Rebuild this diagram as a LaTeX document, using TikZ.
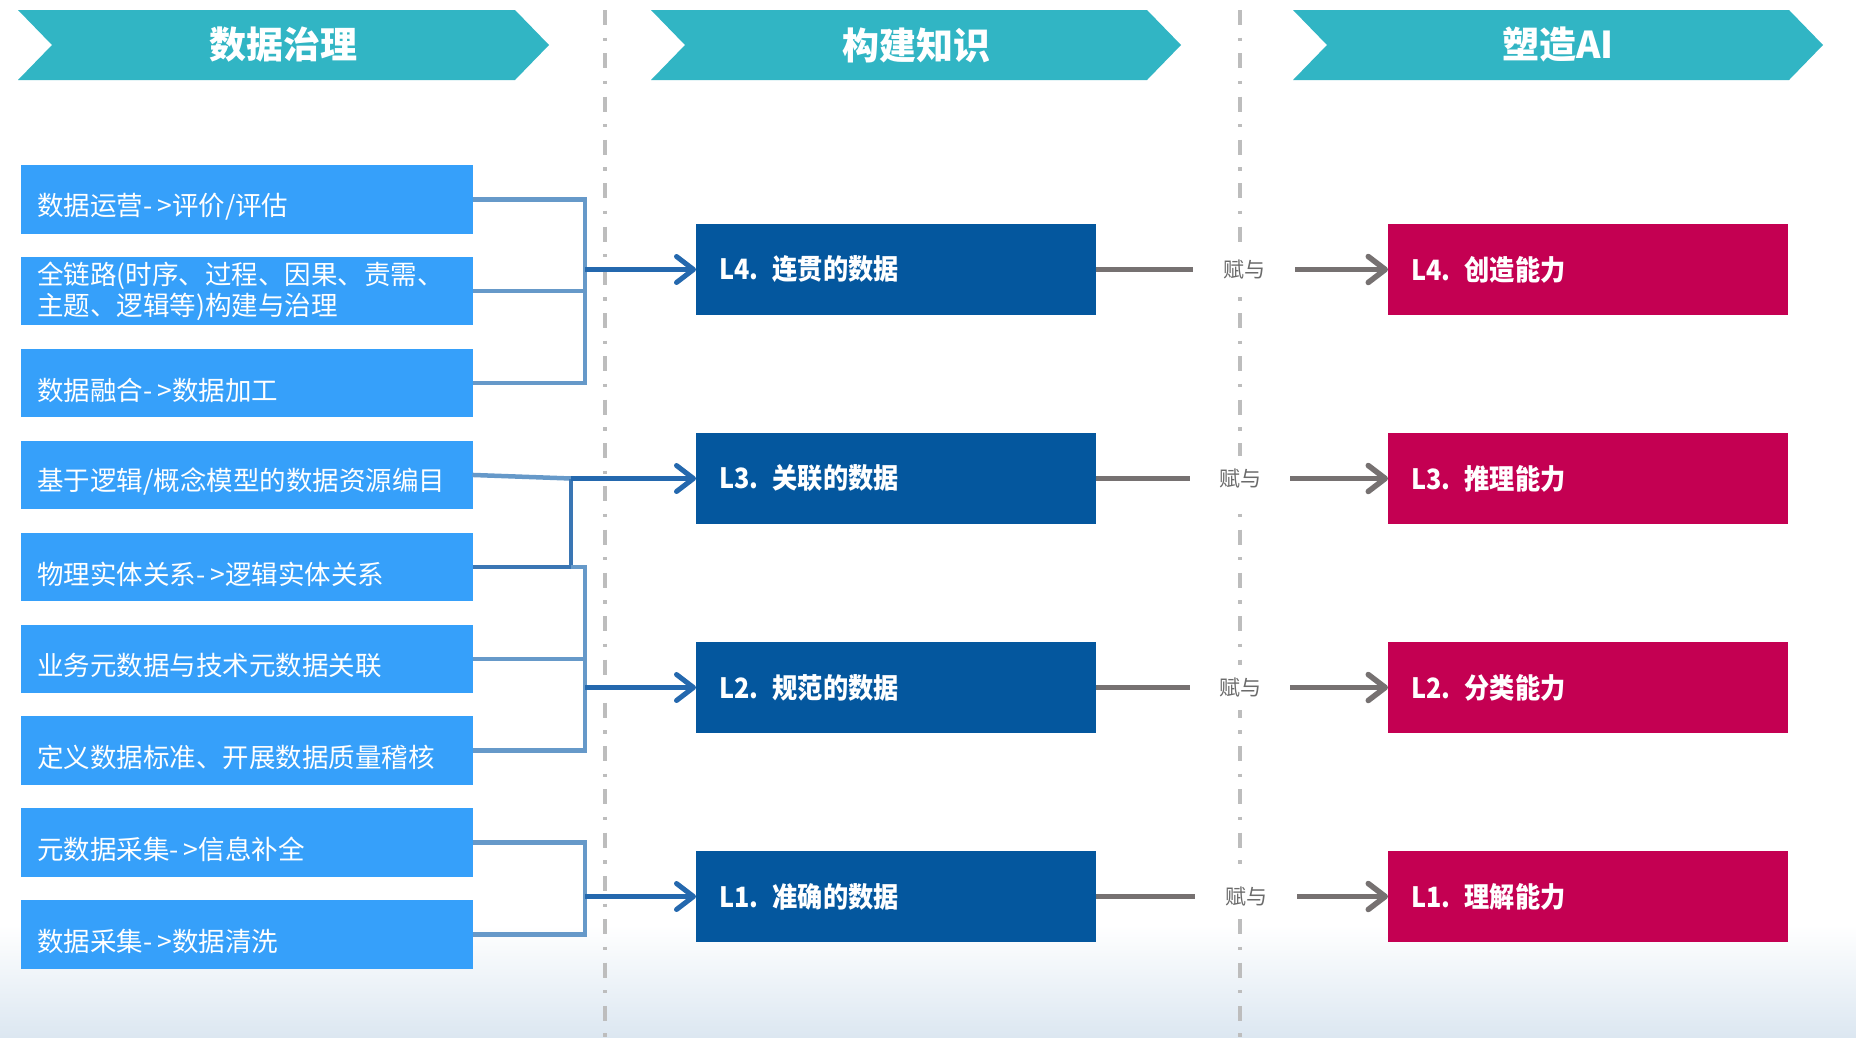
\documentclass[tikz,border=0pt]{standalone}
\usepackage{fontspec}
\setmainfont{Noto Sans CJK SC}
\newfontfamily\condfont[FakeStretch=0.9]{Noto Sans CJK SC}
\usetikzlibrary{arrows.meta}
\definecolor{bannerc}{HTML}{31B5C4}
\definecolor{lblue}{HTML}{36A0FA}
\definecolor{mblue}{HTML}{04579E}
\definecolor{crim}{HTML}{C40052}
\definecolor{brkc}{HTML}{6699C9}
\definecolor{brkd}{HTML}{3A76B4}
\definecolor{arrc}{HTML}{2468AE}
\definecolor{glinec}{HTML}{767171}
\definecolor{dashc}{HTML}{BDBDBD}
\definecolor{fyc}{HTML}{6B6B6B}
\definecolor{bgb}{HTML}{DCE7F1}
\newcommand\arw{-\kern5pt>}
\begin{document}
\begin{tikzpicture}[x=1pt,y=-1pt,
  vdash/.style={draw=dashc, line width=3.5, dash pattern=on 15pt off 12.5pt on 3.3pt off 12.5pt},
  btitle/.style={text=white, font=\bfseries\fontsize{37}{40}\selectfont, inner sep=0},
  lbox/.style={fill=lblue, anchor=north west, minimum width=451.5, minimum height=68.5, inner sep=0, outer sep=0},
  ltext/.style={anchor=west, text=white, font=\fontsize{26.5}{31.3}\selectfont, inner sep=0, align=left},
  mbox/.style={fill=mblue, anchor=north west, minimum width=400, minimum height=91, inner xsep=23.5, inner ysep=0, outer sep=0, text width=353, align=left, text=white, font=\condfont\bfseries\fontsize{28}{32}\selectfont},
  rbox/.style={mbox, fill=crim},
  brk/.style={draw=brkc, line width=4.5},
  brk2/.style={draw=brkd, line width=4.5},
  arr/.style={draw=arrc, line width=5, -{Straight Barb[length=17pt,width=26pt,round]}},
  gl/.style={draw=glinec, line width=5.5},
  ga/.style={gl, -{Straight Barb[length=17pt,width=26pt,round]}},
  fy/.style={fill=white, text=fyc, font=\fontsize{21}{24}\selectfont, inner xsep=2, inner ysep=13}
]
\useasboundingbox (0,0) rectangle (1856,1037);
\fill[white] (0,0) rectangle (1856,1037);
\shade[top color=white, bottom color=bgb] (0,925) rectangle (1856,1037);

% dashed separators
\draw[vdash] (605,10) -- (605,1037);
\draw[vdash] (1240,10) -- (1240,1037);

% banners
\fill[bannerc] (18,10) -- (515,10) -- (549,45) -- (515,80) -- (18,80) -- (52,45) -- cycle;
\fill[bannerc] (651,10) -- (1147,10) -- (1181,45) -- (1147,80) -- (651,80) -- (685,45) -- cycle;
\fill[bannerc] (1293,10) -- (1789,10) -- (1823,45) -- (1789,80) -- (1293,80) -- (1327,45) -- cycle;
\node[btitle] (h1) at (283.5,45) {数据治理};
\node[btitle] (h2) at (916,45) {构建知识};
\node[btitle] (h3) at (1558,45) {塑造AI};

% left boxes
\node[lbox] (b1) at (21,165) {};
\node[lbox] (b2) at (21,256.9) {};
\node[lbox] (b3) at (21,348.8) {};
\node[lbox] (b4) at (21,440.7) {};
\node[lbox] (b5) at (21,532.6) {};
\node[lbox] (b6) at (21,624.5) {};
\node[lbox] (b7) at (21,716.4) {};
\node[lbox] (b8) at (21,808.3) {};
\node[lbox] (b9) at (21,900.2) {};
\node[ltext, yshift=-7pt] (t1) at ([xshift=16pt]b1.west) {数据运营\arw 评价/评估};
\node[ltext] (t2) at ([xshift=16pt]b2.west) {全链路(时序、过程、因果、责需、\\主题、逻辑等)构建与治理};
\node[ltext, yshift=-7pt] (t3) at ([xshift=16pt]b3.west) {数据融合\arw 数据加工};
\node[ltext, yshift=-7pt] (t4) at ([xshift=16pt]b4.west) {基于逻辑/概念模型的数据资源编目};
\node[ltext, yshift=-7pt] (t5) at ([xshift=16pt]b5.west) {物理实体关系\arw 逻辑实体关系};
\node[ltext, yshift=-7pt] (t6) at ([xshift=16pt]b6.west) {业务元数据与技术元数据关联};
\node[ltext, yshift=-7pt] (t7) at ([xshift=16pt]b7.west) {定义数据标准、开展数据质量稽核};
\node[ltext, yshift=-7pt] (t8) at ([xshift=16pt]b8.west) {元数据采集\arw 信息补全};
\node[ltext, yshift=-7pt] (t9) at ([xshift=16pt]b9.west) {数据采集\arw 数据清洗};

% middle boxes
\node[mbox] (m4) at (696,224) {L4. 连贯的数据};
\node[mbox] (m3) at (696,433) {L3. 关联的数据};
\node[mbox] (m2) at (696,642) {L2. 规范的数据};
\node[mbox] (m1) at (696,851) {L1. 准确的数据};

% right boxes
\node[rbox] (r4) at (1388,224) {L4. 创造能力};
\node[rbox] (r3) at (1388,433) {L3. 推理能力};
\node[rbox] (r2) at (1388,642) {L2. 分类能力};
\node[rbox] (r1) at (1388,851) {L1. 理解能力};

% connector x references
\coordinate (xa) at (585,0);
\coordinate (xb) at (571,0);

% group 1
\draw[brk] (b1.east) -- (b1.east -| xa) -- (b3.east -| xa) -- (b3.east);
\draw[brk] (b2.east) -- (b2.east -| xa);
\draw[arr] (m4.west -| xa) -- (m4.west);

% group 2
\draw[brk] (b4.east) -- (m3.west -| xb);
\draw[brk2] (b5.east) -- (b5.east -| xb) -- (m3.west -| xb);
\draw[arr] (m3.west -| xb) -- (m3.west);
\draw[brk] (b5.east -| xb) -- (b5.east -| xa) -- (b7.east -| xa) -- (b7.east);
\draw[brk] (b6.east) -- (b6.east -| xa);
\draw[arr] (m2.west -| xa) -- (m2.west);

% group 3
\draw[brk] (b8.east) -- (b8.east -| xa) -- (b9.east -| xa) -- (b9.east);
\draw[arr] (m1.west -| xa) -- (m1.west);

% gray connectors
\coordinate (g4) at (1193,269.5);
\coordinate (s4) at (1295,269.5);
\coordinate (g3) at (1190,478.5);
\coordinate (s3) at (1290,478.5);
\coordinate (g2) at (1190,687.5);
\coordinate (s2) at (1290,687.5);
\coordinate (g1) at (1195,896.5);
\coordinate (s1) at (1297,896.5);
\draw[gl] (m4.east) -- (g4);
\draw[gl] (m3.east) -- (g3);
\draw[gl] (m2.east) -- (g2);
\draw[gl] (m1.east) -- (g1);
\node[fy] (f4) at (1244,269.5) {赋与};
\node[fy] (f3) at (1240,478.5) {赋与};
\node[fy] (f2) at (1240,687.5) {赋与};
\node[fy] (f1) at (1246,896.5) {赋与};
\draw[ga] (s4) -- (r4.west);
\draw[ga] (s3) -- (r3.west);
\draw[ga] (s2) -- (r2.west);
\draw[ga] (s1) -- (r1.west);
\end{tikzpicture}
\end{document}
